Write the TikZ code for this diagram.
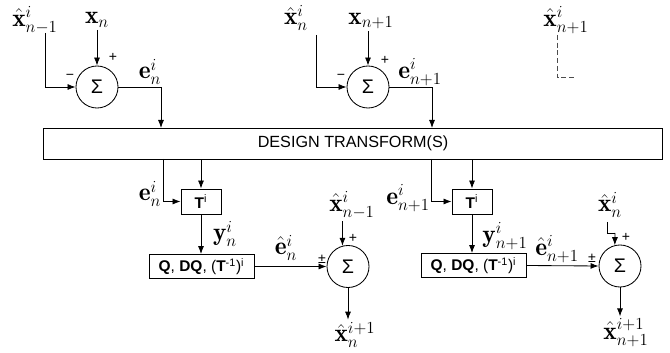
\documentclass[tikz,border=0pt]{standalone}
\usepackage{fontspec}
\usepackage{amsmath}
\newfontfamily\lsans{Liberation Sans}
\usetikzlibrary{arrows.meta,positioning,calc}

\begin{document}
\begin{tikzpicture}[x=0.025cm,y=-0.025cm,
  every node/.style={inner sep=0pt},
  lbl/.style={font=\fontsize{18}{20}\selectfont,inner sep=1.5pt},
  sgn/.style={font=\lsans\fontsize{10}{11}\selectfont},
  sumnode/.style={draw,circle,minimum size=1.05cm,line width=0.6pt,font=\lsans\fontsize{14}{16}\selectfont},
  blk/.style={draw,rectangle,line width=0.6pt,font=\lsans\fontsize{11}{13}\selectfont},
  arr/.style={-{Latex[length=2mm,width=1.5mm]},line width=0.6pt},
  wire/.style={line width=0.6pt}]
\useasboundingbox (0,0) rectangle (670,353);

% upper row: prediction errors
\node[lbl] (xh1) at (35,20) {$\hat{\mathbf{x}}^i_{n-1}$};
\node[lbl] (x1) at (97,20) {$\mathbf{x}_n$};
\node[sumnode] (s1) at (97,87) {Σ};
\node[sgn] at (113,57) {+};
\node[sgn] at (70,77) {−};
\node[lbl] (e1) at (150,72) {$\mathbf{e}^i_n$};

\node[lbl] (xh2) at (296,18) {$\hat{\mathbf{x}}^i_n$};
\node[lbl] (x2) at (371,21) {$\mathbf{x}_{n+1}$};
\node[sumnode] (s2) at (368,87) {Σ};
\node[sgn] at (385,60) {+};
\node[sgn] at (341,77) {−};
\node[lbl] (e2) at (420,72) {$\mathbf{e}^i_{n+1}$};

\node[lbl] (xh3) at (566,20) {$\hat{\mathbf{x}}^i_{n+1}$};

% design box
\node[blk,minimum width=15.45cm,minimum height=0.775cm,font=\lsans\fontsize{11.5}{13}\selectfont] (des) at (353,143.5) {DESIGN TRANSFORM(S)};

% lower left
\node[blk,minimum width=1cm,minimum height=0.625cm] (t1) at (201,201.5) {\textbf{T}\textsuperscript{i}};
\node[blk,minimum width=2.625cm,minimum height=0.6cm] (q1) at (201.5,266.5) {\textbf{Q}, \textbf{DQ}, (\textbf{T}\textsuperscript{-1})\textsuperscript{i}};
\node[sumnode] (s3) at (348,266.5) {Σ};
\node[sgn] at (353,238) {+};
\node[sgn] at (322,259) {±};
\node[lbl] (e3) at (150,194) {$\mathbf{e}^i_n$};
\node[lbl] (y1) at (225,234) {$\mathbf{y}^i_n$};
\node[lbl] (eh1) at (286,248) {$\hat{\mathbf{e}}^i_n$};
\node[lbl] (xh4) at (352,205) {$\hat{\mathbf{x}}^i_{n-1}$};
\node[lbl] (xo1) at (355,335) {$\hat{\mathbf{x}}^{i+1}_n$};

% lower right
\node[blk,minimum width=1cm,minimum height=0.625cm] (t2) at (472,201.5) {\textbf{T}\textsuperscript{i}};
\node[blk,minimum width=2.625cm,minimum height=0.6cm] (q2) at (473.5,265.5) {\textbf{Q}, \textbf{DQ}, (\textbf{T}\textsuperscript{-1})\textsuperscript{i}};
\node[sumnode] (s4) at (620,266) {Σ};
\node[sgn] at (626,237) {+};
\node[sgn] at (592,258) {±};
\node[lbl] (e4) at (408,198) {$\mathbf{e}^i_{n+1}$};
\node[lbl] (y2) at (505,236) {$\mathbf{y}^i_{n+1}$};
\node[lbl] (eh2) at (557,249) {$\hat{\mathbf{e}}^i_{n+1}$};
\node[lbl] (xh5) at (610,205) {$\hat{\mathbf{x}}^i_n$};
\node[lbl] (xo2) at (626,333) {$\hat{\mathbf{x}}^{i+1}_{n+1}$};

\coordinate (a1) at (45,33);
\coordinate (a2) at (316,35);
\coordinate (c1) at (161,128);
\coordinate (c2) at (432,128);
\coordinate (d1) at (163,159);
\coordinate (d2) at (431,159);
\coordinate (g1) at (607,222);
\coordinate (g2) at (615,233);
\coordinate (h1) at (557,35);
\coordinate (h2) at (576,77);

% connectors
\draw[arr] (a1) |- (s1.west);
\draw[arr] (s1.north |- x1.south) -- (s1.north);
\draw[arr] (s1.east) -| (c1);
\draw[arr] (a2) |- (s2.west);
\draw[arr] (s2.north |- x2.south) -- (s2.north);
\draw[arr] (s2.east) -| (c2);
\draw[wire,dashed,dash pattern=on 3.5pt off 2pt,black!70] (h1) |- (h2);

\draw[arr] (d1) |- (t1.west);
\draw[arr] (t1.north |- des.south) -- (t1.north);
\draw[arr] (t1.south) -- (t1.south |- q1.north);
\draw[arr] (q1.east) -- (s3.west);
\draw[arr] (s3.105 |- xh4.south) -- (s3.105);
\draw[arr] (s3.south) -- (s3.south |- xo1.north);

\draw[arr] (d2) |- (t2.west);
\draw[arr] (t2.north |- des.south) -- (t2.north);
\draw[arr] (t2.south) -- (t2.south |- q2.north);
\draw[arr] (q2.east) -- (s4.west);
\draw[wire] (g1) |- (g2);
\draw[arr] (g2) -- (s4.104);
\draw[arr] (s4.south) -- (s4.south |- xo2.north);
\end{tikzpicture}
\end{document}
